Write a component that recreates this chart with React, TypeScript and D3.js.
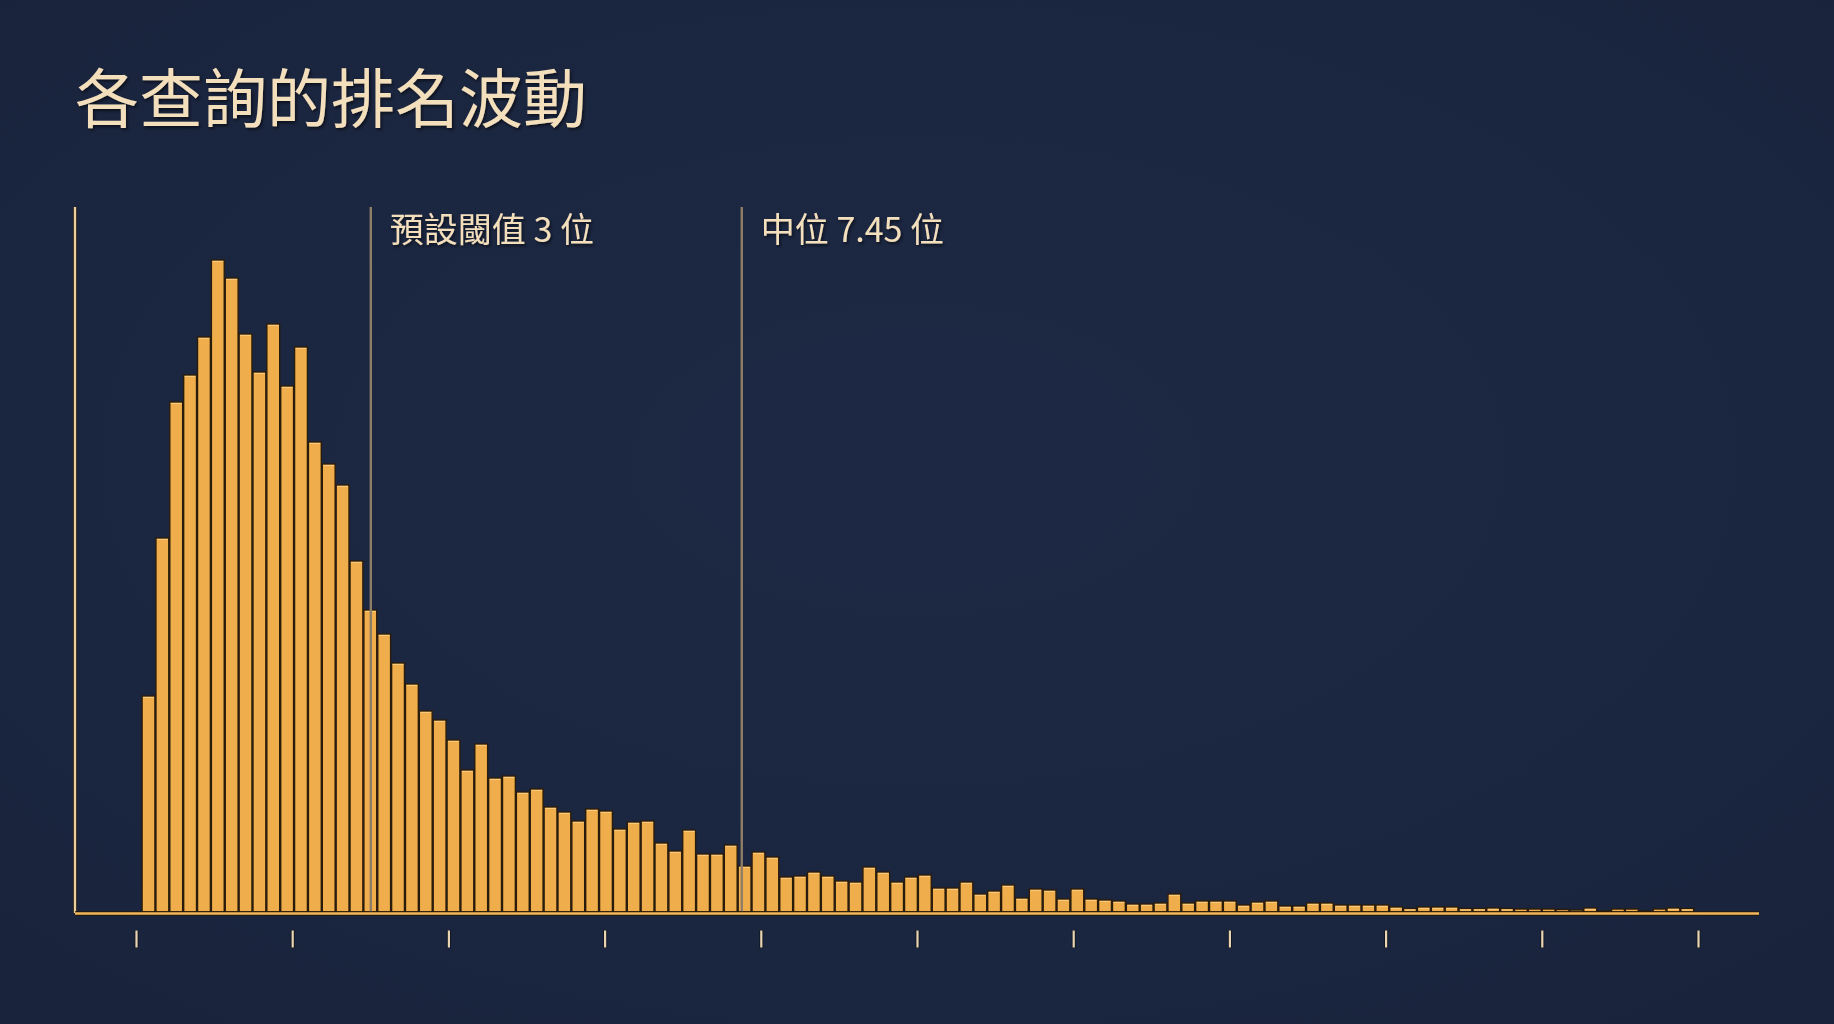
import React from "react";
import * as d3 from "d3";

// ---- data ----
const TITLE = "各查詢的排名波動";
// count of queries per rank-fluctuation bin (112 bins)
const binCounts: number[] = [
  216, 374, 510, 537, 575, 652, 634, 578, 540, 588,
  526, 565, 470, 448, 427, 351, 302, 278, 249, 228,
  201, 192, 172, 142, 168, 134, 136, 120, 123, 105,
  100, 91, 103, 101, 83, 90, 91, 69, 61, 82,
  58, 58, 67, 46, 60, 55, 35, 36, 40, 36,
  31, 30, 45, 40, 30, 35, 37, 24, 24, 30,
  18, 21, 27, 14, 23, 22, 13, 23, 13, 12,
  11, 8, 8, 9, 18, 9, 11, 11, 11, 7,
  10, 11, 6, 6, 9, 9, 7, 7, 7, 7,
  5, 3.5, 5, 5, 5, 3.5, 3.5, 4, 3.5, 3,
  3, 3, 2.5, 2, 4, 1, 3, 3, 1, 3,
  4, 3.5,
];
const BIN_START = 0.065;
const BIN_WIDTH = 0.1775;
const X_DOMAIN: [number, number] = [0, 20];
const xTickValues: number[] = [0, 2, 4, 6, 8, 10, 12, 14, 16, 18, 20];
const Y_DOMAIN: [number, number] = [0, 705];

const THRESHOLD_VALUE = 3;
const THRESHOLD_LABEL = "預設閾值 3 位";
const MEDIAN_LINE_AT = 7.75;
const MEDIAN_LABEL = "中位 7.45 位";

// ---- layout ----
const W = 1834;
const H = 1024;
const plotLeft = 75;
const plotTop = 207;
const baseY = 912;
const axisRight = 1759;

const FONT = '"Noto Sans CJK TC", "Noto Sans CJK SC", "Noto Sans", sans-serif';

export default function App() {
  const x = d3.scaleLinear().domain(X_DOMAIN).range([136.5, 1698.5]);
  const y = d3.scaleLinear().domain(Y_DOMAIN).range([baseY, plotTop]);

  const bins = binCounts.map((c, i) => ({
    x0: BIN_START + i * BIN_WIDTH,
    x1: BIN_START + (i + 1) * BIN_WIDTH,
    c,
  }));

  const markers = [
    { v: THRESHOLD_VALUE, label: THRESHOLD_LABEL },
    { v: MEDIAN_LINE_AT, label: MEDIAN_LABEL },
  ];

  return (
    <svg
      width={W}
      height={H}
      viewBox={`0 0 ${W} ${H}`}
      style={{ position: "absolute", left: 0, top: 0, display: "block" }}
    >
      <defs>
        <radialGradient id="bg" cx="50%" cy="45%" r="75%">
          <stop offset="0%" stopColor="#1d2944" />
          <stop offset="100%" stopColor="#19233c" />
        </radialGradient>
        <filter id="shadow" x="-10%" y="-20%" width="130%" height="150%">
          <feDropShadow dx="1.5" dy="2" stdDeviation="1.5" floodColor="#000000" floodOpacity="0.55" />
        </filter>
      </defs>
      <rect x={0} y={0} width={W} height={H} fill="url(#bg)" />

      <text
        x={75}
        y={122}
        fontFamily={FONT}
        fontSize={64}
        fill="#f4dfbd"
        filter="url(#shadow)"
      >
        {TITLE}
      </text>

      {/* bars */}
      <g>
        {bins.map((b, i) => {
          const bx = x(b.x0);
          const bw = x(b.x1) - x(b.x0);
          const top = y(b.c);
          const h = baseY - top;
          return (
            <g key={i}>
              <rect
                x={bx + 0.5}
                y={top}
                width={bw - 1}
                height={h}
                fill="#efae4b"
                stroke="#2a1c0b"
                strokeWidth={1.4}
              />
              {h > 3 && (
                <line
                  x1={bx + 1.6}
                  x2={bx + bw - 1.6}
                  y1={top + 1.4}
                  y2={top + 1.4}
                  stroke="#f8cd86"
                  strokeWidth={1}
                />
              )}
            </g>
          );
        })}
      </g>

      {/* marker lines */}
      {markers.map((m, i) => (
        <g key={i}>
          <line
            x1={x(m.v)}
            x2={x(m.v)}
            y1={plotTop}
            y2={baseY}
            stroke="#8e7e66"
            strokeWidth={2.4}
          />
          <text
            x={x(m.v) + 19}
            y={242}
            fontFamily={FONT}
            fontSize={34}
            fill="#f4dfbd"
            filter="url(#shadow)"
          >
            {m.label}
          </text>
        </g>
      ))}

      {/* axes */}
      <line x1={plotLeft} x2={plotLeft} y1={plotTop} y2={baseY + 1} stroke="#1a1208" strokeWidth={4} />
      <line x1={plotLeft} x2={plotLeft} y1={plotTop} y2={baseY + 1} stroke="#ead0a0" strokeWidth={2.4} />
      <line x1={plotLeft} x2={axisRight} y1={baseY + 1.5} y2={baseY + 1.5} stroke="#24180a" strokeWidth={4.5} />
      <line x1={plotLeft} x2={axisRight} y1={baseY + 1.5} y2={baseY + 1.5} stroke="#f2b85c" strokeWidth={2.6} />

      {xTickValues.map((t, i) => (
        <g key={i}>
          <line x1={x(t)} x2={x(t)} y1={930} y2={948} stroke="#111722" strokeWidth={4} />
          <line x1={x(t)} x2={x(t)} y1={930.5} y2={947.5} stroke="#e9d5b2" strokeWidth={2.2} />
        </g>
      ))}
    </svg>
  );
}
